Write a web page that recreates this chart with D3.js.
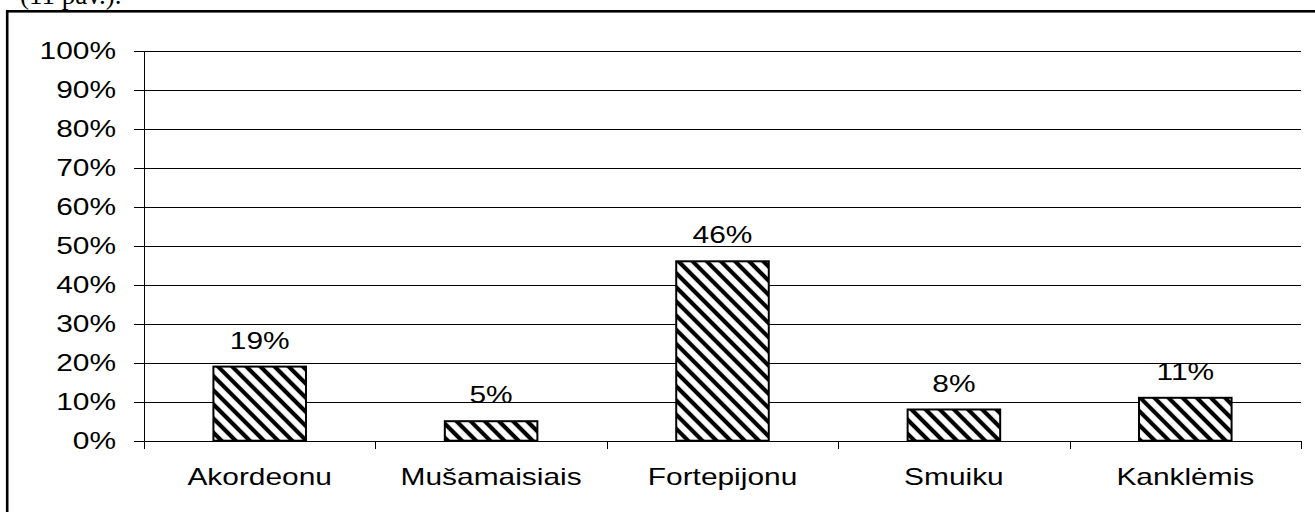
<!DOCTYPE html>
<html>
<head>
<meta charset="utf-8">
<script src="https://cdn.jsdelivr.net/npm/d3@7"></script>
<style>
  body { margin: 0; background: #fff; overflow: hidden; }
  text { font-family: "Liberation Sans", Arial, sans-serif; }
</style>
</head>
<body>
<div id="chart"></div>
<script>
// data
var categories = ["Akordeonu", "Mušamaisiais", "Fortepijonu", "Smuiku", "Kanklėmis"];
var shares = [19, 5, 46, 8, 11];
var tickValues = [0, 10, 20, 30, 40, 50, 60, 70, 80, 90, 100];

var width = 1315, height = 512;
var plotLeft = 144, plotRight = 1301, plotTop = 50.7, plotBottom = 440.7;
var fontSize = 23, stretch = 1.3;

var svg = d3.select("#chart").append("svg")
    .attr("width", width)
    .attr("height", height);

var defs = svg.append("defs");
var pat = defs.append("pattern")
    .attr("id", "hatch")
    .attr("patternUnits", "userSpaceOnUse")
    .attr("width", 10)
    .attr("height", 10)
    .attr("patternTransform", "rotate(45)");
pat.append("rect").attr("width", 10).attr("height", 10).attr("fill", "#fff");
pat.append("line")
    .attr("x1", 0).attr("y1", 5).attr("x2", 10).attr("y2", 5)
    .attr("stroke", "#000").attr("stroke-width", 4.2);

// caption cut off at the top
svg.append("text")
    .attr("x", 20).attr("y", 4)
    .style("font-family", "'Liberation Serif', serif")
    .style("font-size", "27px")
    .text("(11 pav.).");

// outer frame
svg.append("rect")
    .attr("x", 7.2).attr("y", 11.3)
    .attr("width", 1320).attr("height", 520)
    .attr("fill", "none")
    .attr("stroke", "#000")
    .attr("stroke-width", 2.6);

var x = d3.scaleBand()
    .domain(categories)
    .range([plotLeft, plotRight])
    .paddingInner(0.6)
    .paddingOuter(0.3);

var y = d3.scaleLinear()
    .domain([0, 100])
    .range([plotBottom, plotTop]);

function stretchedText(g, tx, ty, anchor, str) {
  return g.append("text")
    .attr("transform", "translate(" + tx + "," + ty + ") scale(" + stretch + ",1)")
    .attr("text-anchor", anchor)
    .style("font-size", fontSize + "px")
    .attr("fill", "#000")
    .text(str);
}

// gridlines
svg.append("g")
  .selectAll("line")
  .data(tickValues.slice(1))
  .enter().append("line")
    .attr("x1", plotLeft).attr("x2", plotRight)
    .attr("y1", function(d) { return Math.round(y(d)) + 0.5; })
    .attr("y2", function(d) { return Math.round(y(d)) + 0.5; })
    .attr("stroke", "#000")
    .attr("stroke-width", 1);

// y axis
var yAxis = svg.append("g");
yAxis.append("line")
    .attr("x1", plotLeft + 0.5).attr("x2", plotLeft + 0.5)
    .attr("y1", Math.round(plotTop) + 0.5).attr("y2", Math.round(plotBottom) + 0.5)
    .attr("stroke", "#000");
yAxis.selectAll(".tick")
  .data(tickValues)
  .enter().append("line")
    .attr("x1", plotLeft - 10).attr("x2", plotLeft)
    .attr("y1", function(d) { return Math.round(y(d)) + 0.5; })
    .attr("y2", function(d) { return Math.round(y(d)) + 0.5; })
    .attr("stroke", "#000");
tickValues.forEach(function(v) {
  stretchedText(yAxis, plotLeft - 28, y(v) + 8.5, "end", v + "%");
});

// x axis
var xAxis = svg.append("g");
xAxis.append("line")
    .attr("x1", plotLeft).attr("x2", plotRight)
    .attr("y1", Math.round(plotBottom) + 0.5).attr("y2", Math.round(plotBottom) + 0.5)
    .attr("stroke", "#000");
var bounds = categories.map(function(c) { return x(c) - x.step() * 0.3; });
bounds.push(plotRight);
xAxis.selectAll(".xtick")
  .data(bounds)
  .enter().append("line")
    .attr("x1", function(d) { return Math.round(d) + 0.5; })
    .attr("x2", function(d) { return Math.round(d) + 0.5; })
    .attr("y1", Math.round(plotBottom)).attr("y2", Math.round(plotBottom) + 8)
    .attr("stroke", "#000");
categories.forEach(function(c) {
  stretchedText(xAxis, x(c) + x.bandwidth() / 2, 485, "middle", c);
});

// bars
var bars = svg.append("g");
bars.selectAll("rect")
  .data(shares)
  .enter().append("rect")
    .attr("x", function(d, i) { return x(categories[i]); })
    .attr("y", function(d) { return y(d); })
    .attr("width", x.bandwidth())
    .attr("height", function(d) { return y(0) - y(d); })
    .attr("fill", "url(#hatch)")
    .attr("stroke", "#000")
    .attr("stroke-width", 2);

shares.forEach(function(d, i) {
  stretchedText(bars, x(categories[i]) + x.bandwidth() / 2, y(d) - 18, "middle", d + "%");
});
</script>
</body>
</html>
